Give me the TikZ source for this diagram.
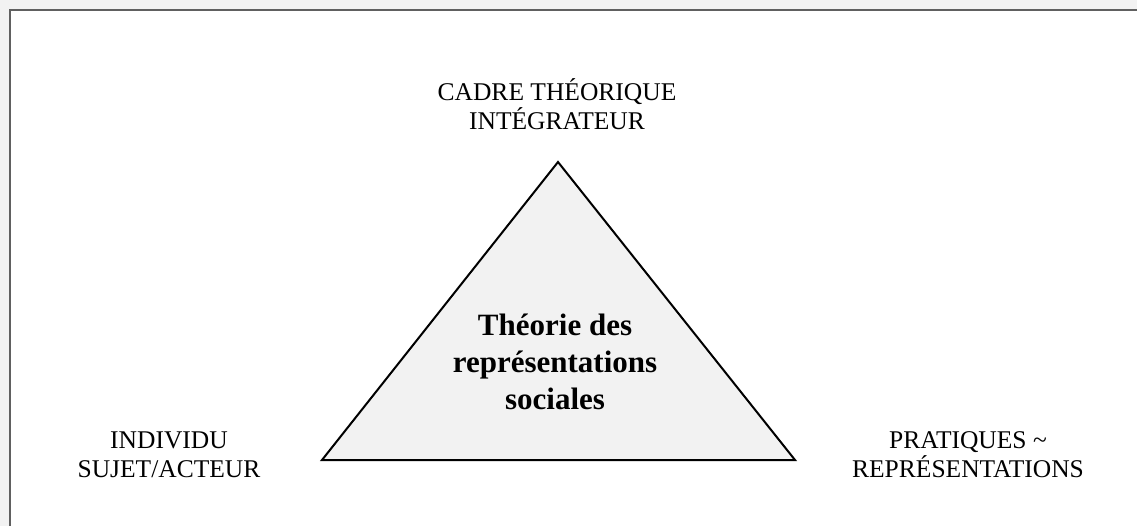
\documentclass[tikz,border=0pt]{standalone}
\usepackage{fontspec}
\setmainfont{Liberation Serif}
\usepackage{tikz}
\usetikzlibrary{positioning}
\definecolor{fond}{HTML}{F2F2F2}
\definecolor{cadre}{HTML}{606060}
\definecolor{remplissage}{HTML}{F2F2F2}

\begin{document}
\begin{tikzpicture}[x=1pt,y=-1pt,%
                    sommet/.style={align=center,inner sep=0,font=\fontsize{25.5}{29}\selectfont},
                    noyau/.style={align=center,inner sep=0,font=\fontsize{31}{37}\selectfont\bfseries},
        ]
        \useasboundingbox (0,0) rectangle (1137,526);
        \fill[fond] (0,0) rectangle (1137,526);
        \fill[white] (10,10) rectangle (1137,526);
        \draw[cadre,line width=2.2pt] (10,526) -- (10,10) -- (1137,10);
%
        \coordinate (haut) at (558,162);
        \coordinate (gauche) at (322,460);
        \coordinate (droite) at (795,460);
        \draw[line width=2pt,line join=miter,fill=remplissage] (haut) -- (gauche) -- (droite) -- cycle;
%
        \node[sommet,anchor=base] (cadre) at (557,130) {CADRE THÉORIQUE\\INTÉGRATEUR};
        \node[sommet,anchor=base] (individu) at (169,477) {INDIVIDU\\SUJET/ACTEUR};
        \node[sommet,anchor=base] (pratiques) at (968,477) {PRATIQUES \textasciitilde\\REPRÉSENTATIONS};
        \node[noyau,anchor=base] (theorie) at (555,409) {Théorie des\\représentations\\sociales};
    \end{tikzpicture}
\end{document}
